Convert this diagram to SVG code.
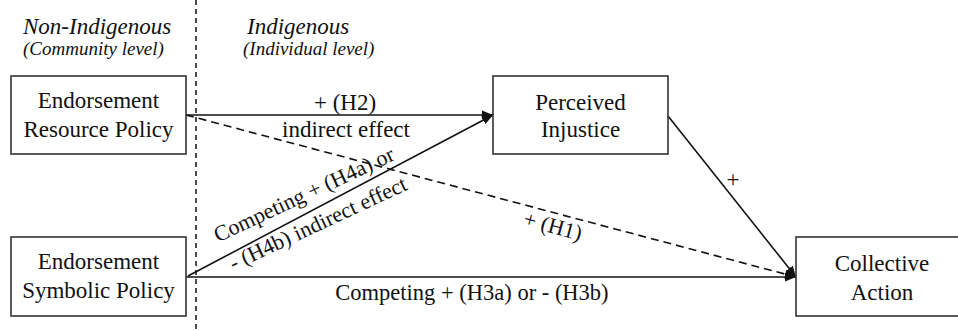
<svg xmlns="http://www.w3.org/2000/svg" width="958" height="331" viewBox="0 0 958 331">
  <style>
    text { font-family: "Liberation Serif", "Times New Roman", serif; fill: #111; }
    .node rect { fill: #fff; stroke: #333; stroke-width: 1.6; }
    .nt { font-size: 23px; text-anchor: middle; }
    .hd { font-style: italic; font-size: 23px; }
    .sub { font-style: italic; font-size: 19px; }
    .lbl { font-size: 23px; text-anchor: middle; }
    .lbl-s { font-size: 22px; text-anchor: middle; }
    .edge { stroke: #111; stroke-width: 1.6; fill: none; }
    .dash { stroke-dasharray: 8 5; }
    .divider { stroke: #111; stroke-width: 1.5; stroke-dasharray: 5 4; }
  </style>
  <defs>
    <marker id="arr" markerUnits="userSpaceOnUse" markerWidth="12" markerHeight="10" refX="11" refY="5" orient="auto">
      <path d="M0,0.5 L11,5 L0,9.5 z" fill="#111"/>
    </marker>
  </defs>
  <rect width="958" height="331" fill="#fff"/>

  <g id="headers">
    <line class="divider" x1="196" y1="0" x2="196" y2="331"/>
    <text class="hd" x="23" y="34">Non-Indigenous</text>
    <text class="sub" x="23" y="55">(Community level)</text>
    <text class="hd" x="247" y="34">Indigenous</text>
    <text class="sub" x="243" y="55">(Individual level)</text>
  </g>

  <g id="connectors">
    <line class="edge" x1="186" y1="115" x2="493" y2="115" marker-end="url(#arr)"/>
    <line class="edge dash" x1="186" y1="115" x2="796" y2="277" marker-end="url(#arr)"/>
    <line class="edge" x1="188" y1="276" x2="493" y2="115" marker-end="url(#arr)"/>
    <line class="edge" x1="186" y1="277" x2="796" y2="277" marker-end="url(#arr)"/>
    <line class="edge" x1="668" y1="116" x2="796" y2="277" marker-end="url(#arr)"/>
    <text class="lbl" x="345" y="110">+ (H2)</text>
    <text class="lbl" x="346" y="137">indirect effect</text>
    <text class="lbl-s" transform="translate(307,201) rotate(-25)" x="0" y="0">Competing + (H4a) or</text>
    <text class="lbl-s" transform="translate(321,230) rotate(-25)" x="0" y="0">- (H4b) indirect effect</text>
    <text class="lbl-s" transform="translate(551,233) rotate(14.9)" x="0" y="0">+ (H1)</text>
    <text class="lbl" x="733" y="187">+</text>
    <text class="lbl-s" x="472" y="300" style="font-size:22.5px">Competing + (H3a) or - (H3b)</text>
  </g>

  <g id="node-resource" class="node">
    <rect x="11" y="76" width="175" height="78"/>
    <text class="nt" x="98.5" y="108">Endorsement</text>
    <text class="nt" x="98.5" y="137">Resource Policy</text>
  </g>

  <g id="node-symbolic" class="node">
    <rect x="11" y="237" width="175" height="79"/>
    <text class="nt" x="98.5" y="269">Endorsement</text>
    <text class="nt" x="98.5" y="298">Symbolic Policy</text>
  </g>

  <g id="node-injustice" class="node">
    <rect x="493" y="76" width="175" height="78"/>
    <text class="nt" x="580.5" y="110">Perceived</text>
    <text class="nt" x="580.5" y="137">Injustice</text>
  </g>

  <g id="node-action" class="node">
    <rect x="796" y="237" width="172" height="79"/>
    <text class="nt" x="882" y="271">Collective</text>
    <text class="nt" x="882" y="300">Action</text>
  </g>
</svg>
